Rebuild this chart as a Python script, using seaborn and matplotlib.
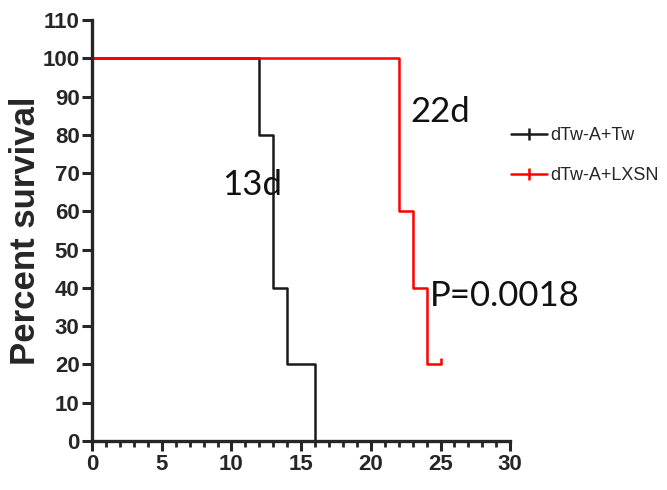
import matplotlib
matplotlib.use("Agg")
import matplotlib.pyplot as plt
from matplotlib.lines import Line2D
import seaborn as sns
import pandas as pd

# Data
groups = ["dTw-A+Tw", "dTw-A+LXSN"]
tw_days = [0, 12, 13, 14, 16]
tw_surv = [100, 80, 40, 20, 0]
lxsn_days = [0, 22, 23, 24, 25]
lxsn_surv = [100, 60, 40, 20, 20]
censor_days = [25]
censor_surv = [20]
colors = ["#1a1a1a", "#ff0000"]
xticks = [0, 5, 10, 15, 20, 25, 30]
yticks = list(range(0, 111, 10))
annotations = [("13d", 9.3, 67), ("22d", 22.8, 86), ("P=0.0018", 24.2, 38)]

df = pd.concat([
    pd.DataFrame({"day": tw_days, "surv": tw_surv, "group": groups[0]}),
    pd.DataFrame({"day": lxsn_days, "surv": lxsn_surv, "group": groups[1]}),
])

sns.set_style("ticks")
plt.rcParams["font.family"] = ["Liberation Sans", "DejaVu Sans"]

fig = plt.figure(figsize=(6.67, 4.9), dpi=100)
ax = fig.add_axes([0.138, 0.100, 0.627, 0.859])

sns.lineplot(data=df, x="day", y="surv", hue="group", palette=colors,
             drawstyle="steps-post", linewidth=1.8, ax=ax, legend=False,
             estimator=None, sort=False)
ax.plot(censor_days, censor_surv, linestyle="none",
        marker=[(0, 0), (0, 1)], markersize=9, markeredgewidth=1.8,
        color=colors[1])

ax.set_xlim(0, 30)
ax.set_ylim(0, 110)
ax.set_xticks(xticks)
ax.set_xticks(range(0, 31), minor=True)
ax.set_yticks(yticks)
ax.tick_params(axis="both", which="major", direction="out", width=2.2,
               length=7, labelsize=16, pad=2)
ax.tick_params(axis="x", which="minor", direction="out", width=2.0, length=4)
for lbl in ax.get_xticklabels() + ax.get_yticklabels():
    lbl.set_fontweight("bold")
for s in ["left", "bottom"]:
    ax.spines[s].set_linewidth(2.4)
for s in ["top", "right"]:
    ax.spines[s].set_visible(False)

ax.set_xlabel("")
ax.set_ylabel("Percent survival", fontsize=25, fontweight="bold", labelpad=0)

for txt, x, y in annotations:
    ax.text(x, y, txt, fontsize=25, family=["Lato", "DejaVu Sans"],
            va="center", ha="left", color="#111111")

handles = [Line2D([0], [0], color=c, lw=1.8, marker="|", markersize=8,
                  markeredgewidth=1.8) for c in colors]
fig.legend(handles, groups, loc="upper left", bbox_to_anchor=(0.766, 0.741),
           frameon=False, fontsize=13, handlelength=2.0, handletextpad=0.2,
           labelspacing=1.3, borderpad=0, borderaxespad=0)

fig.savefig("out.png", dpi=100)
